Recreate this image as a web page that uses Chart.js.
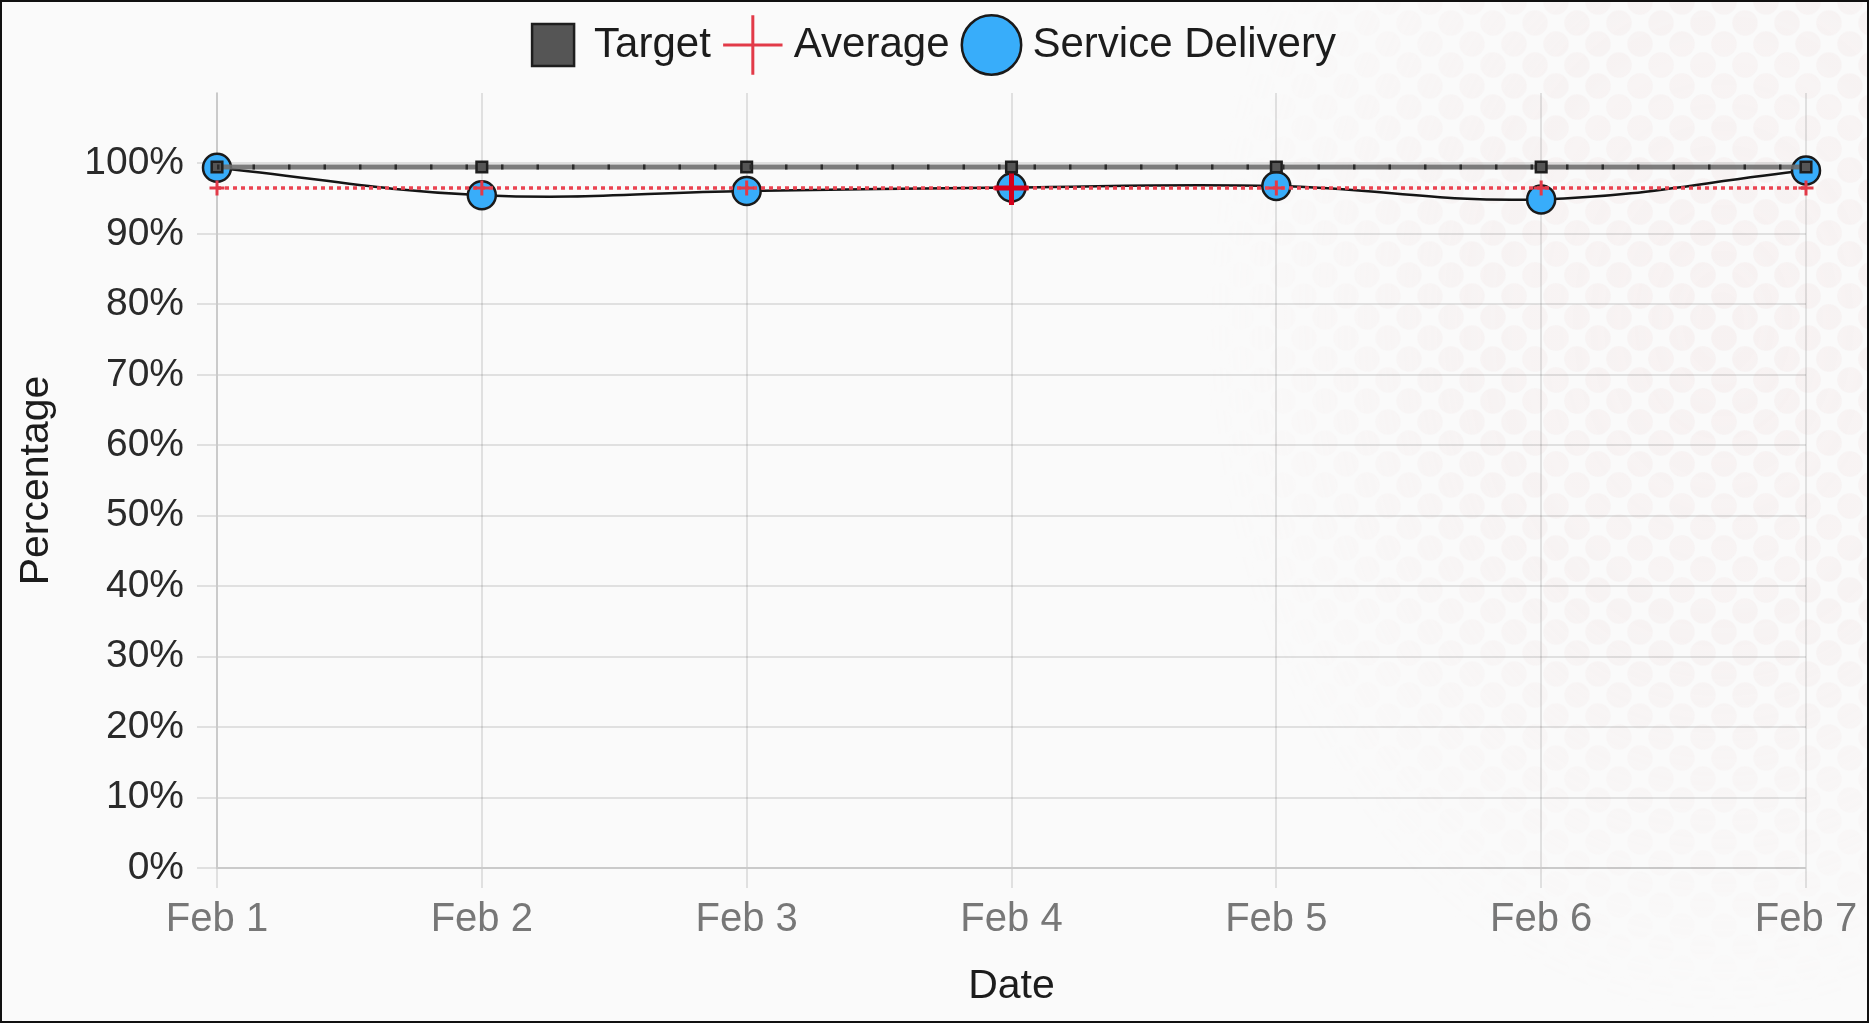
<!DOCTYPE html>
<html><head><meta charset="utf-8">
<script src="https://cdn.jsdelivr.net/npm/chart.js@4.4.1/dist/chart.umd.min.js"></script>
<style>
html,body{margin:0;padding:0;background:#fff;}
#wrap{position:relative;width:1869px;height:1023px;box-sizing:border-box;border:2px solid #111;background:#fafafa;overflow:hidden;}
#pat{position:absolute;left:0;top:0;width:100%;height:100%;
 background-image:radial-gradient(circle,rgba(236,212,212,0.22) 0 12px,transparent 13.5px),radial-gradient(circle,rgba(236,212,212,0.22) 0 12px,transparent 13.5px);
 background-size:42px 42px;background-position:0 0,21px 21px;
 -webkit-mask-image:radial-gradient(ellipse 520px 700px at 1720px 320px,#000 0%,rgba(0,0,0,0.7) 50%,transparent 100%);
 mask-image:radial-gradient(ellipse 520px 700px at 1720px 320px,#000 0%,rgba(0,0,0,0.7) 50%,transparent 100%);}
#c{position:absolute;left:0;top:0;}
</style></head><body>
<div id="wrap"><div id="pat"></div><canvas id="c" width="1865" height="1019"></canvas></div>
<script>
const categories = ['Feb 1', 'Feb 2', 'Feb 3', 'Feb 4', 'Feb 5', 'Feb 6', 'Feb 7'];
const targetValues = [99.5, 99.5, 99.5, 99.5, 99.5, 99.5, 99.5];
const averageValues = [96.5, 96.5, 96.5, 96.5, 96.5, 96.5, 96.5];
const serviceDeliveryValues = [99.4, 95.5, 96.1, 96.6, 96.8, 94.9, 99.0];
const yAxisMax = 110;
const yTickStep = 10;
const yLabelMax = 100;

Chart.defaults.font.family = 'Arial, "Liberation Sans", sans-serif';
Chart.defaults.font.size = 40;

const legendSpace = {
  id: 'legendSpace',
  beforeInit(chart) {
    const orig = chart.legend.fit;
    chart.legend.fit = function () { orig.call(this); this.height = 91; };
  }
};

new Chart(document.getElementById('c'), {
  type: 'line',
  plugins: [legendSpace],
  data: {
    labels: categories,
    datasets: [
      {
        label: '',
        data: targetValues,
        borderColor: '#2a2a2a',
        borderWidth: 5,
        borderDash: [2.5, 33],
        pointRadius: 0,
        pointHoverRadius: 0,
        fill: false,
        order: 0
      },
      {
        label: 'Target',
        data: targetValues,
        borderColor: 'rgba(110,110,110,0.9)',
        backgroundColor: '#555',
        borderWidth: 5,
        pointStyle: 'rect',
        pointRadius: 7.5,
        pointBackgroundColor: '#555',
        pointBorderColor: '#1e1e1e',
        pointBorderWidth: 2.5,
        fill: false,
        clip: false,
        order: 1
      },
      {
        label: 'Average',
        data: averageValues,
        borderColor: '#ea4452',
        borderWidth: 3.5,
        borderDash: [4, 4],
        pointStyle: 'cross',
        pointRadius: c => c.dataIndex === 3 ? 17 : 7.5,
        pointBorderColor: c => c.dataIndex === 3 ? '#d6001c' : '#e23a48',
        pointBorderWidth: c => c.dataIndex === 3 ? 5 : 3,
        pointBackgroundColor: '#e23a48',
        fill: false,
        clip: false,
        order: 2
      },
      {
        label: 'Service Delivery',
        data: serviceDeliveryValues,
        borderColor: '#151515',
        borderWidth: 2.5,
        tension: 0.4,
        pointStyle: 'circle',
        pointRadius: 14,
        pointBackgroundColor: '#38adfa',
        pointBorderColor: '#1a1a1a',
        pointBorderWidth: 2.5,
        backgroundColor: '#38adfa',
        fill: false,
        clip: false,
        order: 3
      }
    ]
  },
  options: {
    responsive: false,
    animation: false,
    devicePixelRatio: 1,
    events: [],
    layout: { padding: 0 },
    plugins: {
      legend: {
        labels: {
          usePointStyle: true,
          padding: 22,
          color: '#1c1c1c',
          font: { size: 42 },
          filter: item => item.text !== ''
        }
      },
      tooltip: { enabled: false }
    },
    scales: {
      x: {
        afterFit: s => { s.height = 153; s.paddingRight = 61; },
        grid: { color: 'rgba(0,0,0,0.1)', lineWidth: 2, tickLength: 20 },
        border: { color: 'rgba(0,0,0,0.1)', width: 2 },
        ticks: { color: '#777', padding: 7.5, font: { size: 40 } },
        title: { display: true, text: 'Date', color: '#1c1c1c', font: { size: 41 }, padding: 10 }
      },
      y: {
        min: 0,
        max: yAxisMax,
        afterFit: s => { s.width = 215; },
        grid: { color: 'rgba(0,0,0,0.1)', lineWidth: 2, tickLength: 20 },
        border: { color: 'rgba(0,0,0,0.1)', width: 2 },
        ticks: {
          stepSize: yTickStep,
          color: '#2a2a2a',
          padding: 13,
          font: { size: 39 },
          callback: v => v <= yLabelMax ? v + '%' : null
        },
        title: { display: true, text: 'Percentage', color: '#1c1c1c', font: { size: 41 }, padding: 10 }
      }
    }
  }
});
</script>
</body></html>
